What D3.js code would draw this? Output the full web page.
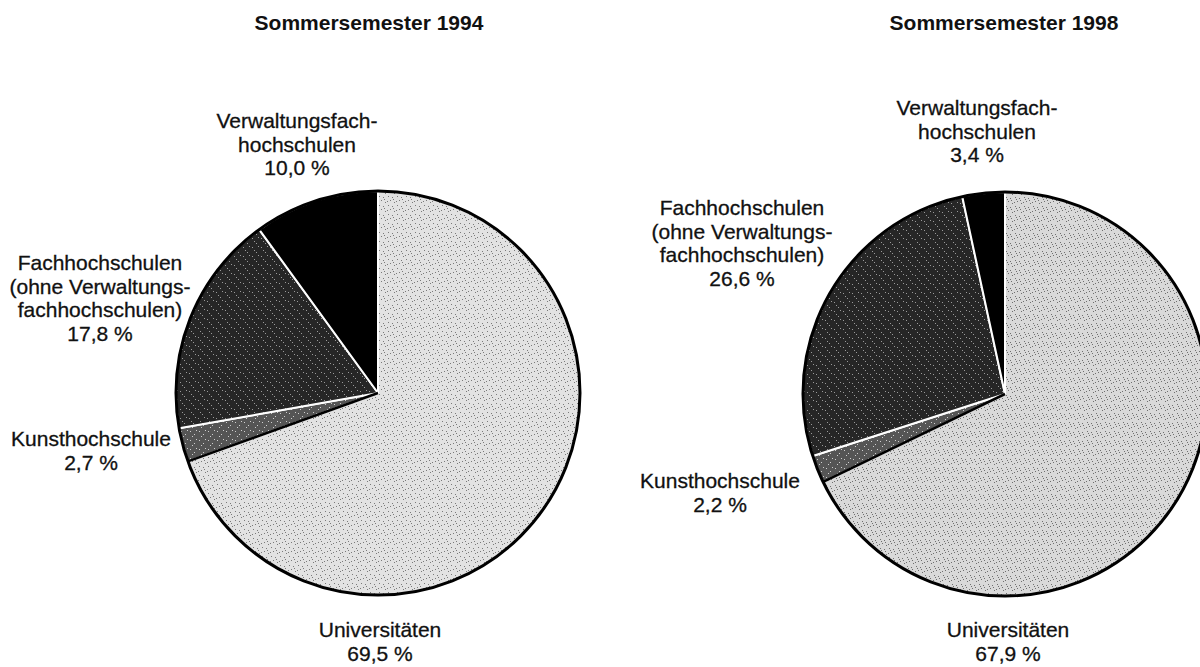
<!DOCTYPE html>
<html>
<head>
<meta charset="utf-8">
<script src="https://cdn.jsdelivr.net/npm/d3@7"></script>
<style>
  body { margin: 0; background: #fff; }
  text { font-family: "Liberation Sans", Arial, sans-serif; fill: #111; }
</style>
</head>
<body>
<svg id="chart" width="1200" height="667"></svg>
<script>
// Data
const categories = ['Universitäten', 'Kunsthochschule', 'Fachhochschulen', 'Verwaltungsfachhochschulen'];
const values1994 = [69.5, 2.7, 17.8, 10.0];
const values1998 = [67.9, 2.2, 26.6, 3.4];
const titles = ['Sommersemester 1994', 'Sommersemester 1998'];
const labelLines = [
    ['Universitäten'],
    ['Kunsthochschule'],
    ['Fachhochschulen', '(ohne Verwaltungs-', 'fachhochschulen)'],
    ['Verwaltungsfach-', 'hochschulen'],
];

// Layout
const radius = 202;
const lineHeight = 23.5;
const charts = [
    {
        values: values1994, title: titles[0], cx: 378, cy: 393, titleX: 369, uni: 'url(#uni1)',
        labelPos: [[380, 637], [91, 446], [100, 270], [297, 128]],
    },
    {
        values: values1998, title: titles[1], cx: 1005, cy: 394, titleX: 1004, uni: 'url(#uni2)',
        labelPos: [[1008, 637], [720, 488], [742, 215], [977, 115]],
    },
];

const de = d3.formatLocale({ decimal: ',', thousands: '.', grouping: [3], currency: ['', ' €'] });
const fmt = de.format('.1f');

const svg = d3.select('#chart');
const defs = svg.append('defs');

// stippled fills, scanned look
function stipple(id, bg, dot, dots) {
    const p = defs.append('pattern')
        .attr('id', id)
        .attr('width', 9)
        .attr('height', 9)
        .attr('patternUnits', 'userSpaceOnUse');
    p.append('rect').attr('width', 9).attr('height', 9).attr('fill', bg);
    dots.forEach(([x, y]) => p.append('rect')
        .attr('x', x).attr('y', y).attr('width', 1).attr('height', 1).attr('fill', dot));
}
stipple('uni1', '#e2e2e2', '#7a7a7a', [[1, 1], [5, 2], [3, 5], [7, 7], [0, 6], [6, 4]]);
stipple('uni2', '#d9d9d9', '#6f6f6f', [[1, 1], [5, 2], [3, 5], [7, 7], [0, 6], [6, 4], [2, 3]]);
stipple('kunst', '#555', '#cfcfcf', [[1, 2], [5, 5], [7, 1], [3, 7]]);
stipple('fach', '#262626', '#9a9a9a', [[2, 1], [6, 6], [4, 3], [0, 7]]);

const pie = d3.pie().sort(null).value((d) => d);
const arc = d3.arc().innerRadius(0).outerRadius(radius);

charts.forEach((c) => {
    const fills = [c.uni, 'url(#kunst)', 'url(#fach)', '#000'];
    const g = svg.append('g').attr('transform', `translate(${c.cx},${c.cy})`);
    const arcs = pie(c.values);

    g.selectAll('path.slice')
        .data(arcs)
        .enter()
        .append('path')
        .attr('class', 'slice')
        .attr('d', arc)
        .attr('fill', (d, i) => fills[i])
        .attr('stroke', '#fff')
        .attr('stroke-width', 2)
        .attr('stroke-linejoin', 'round');

    // black edge between Universitäten and Kunsthochschule
    const a = arcs[0].endAngle;
    g.append('line')
        .attr('x1', 0).attr('y1', 0)
        .attr('x2', radius * Math.sin(a))
        .attr('y2', -radius * Math.cos(a))
        .attr('stroke', '#000')
        .attr('stroke-width', 2.5);

    // outline
    g.append('circle')
        .attr('r', radius)
        .attr('fill', 'none')
        .attr('stroke', '#000')
        .attr('stroke-width', 3);

    // title
    svg.append('text')
        .attr('x', c.titleX)
        .attr('y', 30)
        .attr('text-anchor', 'middle')
        .style('font-size', '21px')
        .style('font-weight', 'bold')
        .text(c.title);

    // labels
    categories.forEach((cat, i) => {
        const [lx, ly] = c.labelPos[i];
        const lines = labelLines[i].concat([`${fmt(c.values[i])} %`]);
        const t = svg.append('text')
            .attr('x', lx)
            .attr('y', ly)
            .attr('text-anchor', 'middle')
            .style('font-size', '21px')
            .style('stroke', '#111')
            .style('stroke-width', 0.3);
        lines.forEach((s, j) => {
            t.append('tspan')
                .attr('x', lx)
                .attr('dy', j === 0 ? 0 : lineHeight)
                .text(s);
        });
    });
});
</script>
</body>
</html>
